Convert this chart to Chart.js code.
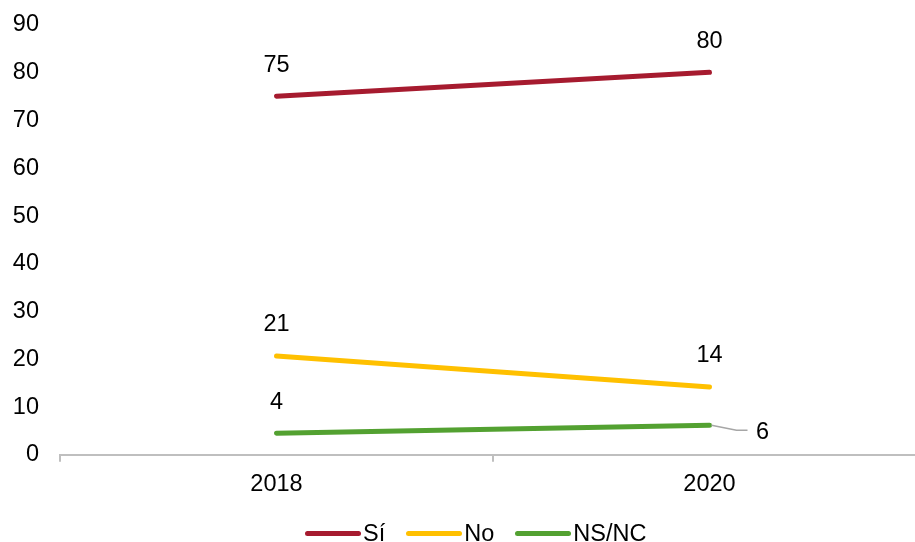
<!DOCTYPE html>
<html lang="es">
<head>
  <meta charset="UTF-8">
  <title>Sí / No / NS-NC</title>
  <script src="https://cdn.jsdelivr.net/npm/chart.js"></script>
  <style>
    body {
      margin: 0;
      background: #fff;
      overflow: hidden;
      font-family: 'Liberation Sans', Arial, sans-serif;
    }

    #wrap {
      position: relative;
      width: 930px;
      height: 542px;
    }

    .legend {
      position: absolute;
      left: 305px;
      top: 519px;
      display: flex;
      align-items: center;
      gap: 21px;
      font-size: 23.5px;
      color: #000;
      line-height: 28px;
    }

    .legend-item {
      display: flex;
      align-items: center;
      gap: 2px;
    }

    .legend-line {
      width: 56px;
      height: 5px;
      border-radius: 3px;
      display: inline-block;
    }
  </style>
</head>
<body>
  <div id="wrap">
    <canvas id="chart"></canvas>
    <div class="legend" id="legend"></div>
  </div>

  <script>
    const years = ["2018", "2020"];
    const si = [75.1, 80.1];
    const no = [20.7, 14.2];
    const nsnc = [4.5, 6.2];
    const siLabels = ["75", "80"];
    const noLabels = ["21", "14"];
    const nsncLabels = ["4", "6"];

    const series = [
      { name: "Sí", values: si, labels: siLabels, color: "#A61B2F" },
      { name: "No", values: no, labels: noLabels, color: "#FFC000" },
      { name: "NS/NC", values: nsnc, labels: nsncLabels, color: "#53A131" }
    ];

    const font = { family: "'Liberation Sans', Arial, sans-serif", size: 23.5 };

    // labels above the line end, except the last green one which gets a leader line
    const valueLabels = {
      id: 'valueLabels',
      afterDatasetsDraw(chart) {
        const ctx = chart.ctx;
        ctx.save();
        ctx.font = font.size + 'px ' + font.family;
        ctx.fillStyle = '#000';
        ctx.textAlign = 'center';
        ctx.textBaseline = 'middle';
        chart.data.datasets.forEach((ds, i) => {
          const meta = chart.getDatasetMeta(i);
          meta.data.forEach((pt, j) => {
            const text = ds.valueLabels[j];
            if (i === 2 && j === 1) {
              ctx.strokeStyle = '#A6A6A6';
              ctx.lineWidth = 1.5;
              ctx.beginPath();
              ctx.moveTo(pt.x + 2, pt.y);
              ctx.lineTo(pt.x + 27, pt.y + 5);
              ctx.lineTo(pt.x + 38, pt.y + 5);
              ctx.stroke();
              ctx.fillText(text, pt.x + 53, pt.y + 7);
            } else {
              ctx.fillText(text, pt.x, pt.y - 31);
            }
          });
        });
        ctx.restore();
      }
    };

    new Chart(document.getElementById('chart'), {
      type: 'line',
      data: {
        labels: years,
        datasets: series.map(s => ({
          label: s.name,
          data: s.values,
          valueLabels: s.labels,
          borderColor: s.color,
          backgroundColor: s.color,
          borderWidth: 5,
          borderCapStyle: 'round',
          pointRadius: 0,
          tension: 0
        }))
      },
      options: {
        responsive: true,
        maintainAspectRatio: false,
        animation: false,
        layout: { padding: { top: 25, left: 13, right: 4, bottom: 34 } },
        plugins: {
          legend: { display: false },
          tooltip: { enabled: false }
        },
        scales: {
          x: {
            offset: true,
            grid: {
              display: true,
              offset: true,
              drawOnChartArea: false,
              tickLength: 7,
              color: '#BFBFBF',
              lineWidth: 2
            },
            border: { color: '#BFBFBF', width: 2 },
            ticks: { color: '#000', font, padding: 9 }
          },
          y: {
            min: 0,
            max: 90,
            grid: { display: false, drawTicks: false },
            border: { display: false },
            ticks: { stepSize: 10, color: '#000', font, padding: 21 },
            afterFit: s => {
              s.width = 47;
              s.paddingTop = 0;
              s.paddingBottom = 0;
            }
          }
        }
      },
      plugins: [valueLabels]
    });

    const legend = document.getElementById('legend');
    series.forEach(s => {
      const item = document.createElement('div');
      item.className = 'legend-item';
      item.innerHTML = '<span class="legend-line" style="background:' + s.color + '"></span><span>' + s.name + '</span>';
      legend.appendChild(item);
    });
  </script>
</body>
</html>
